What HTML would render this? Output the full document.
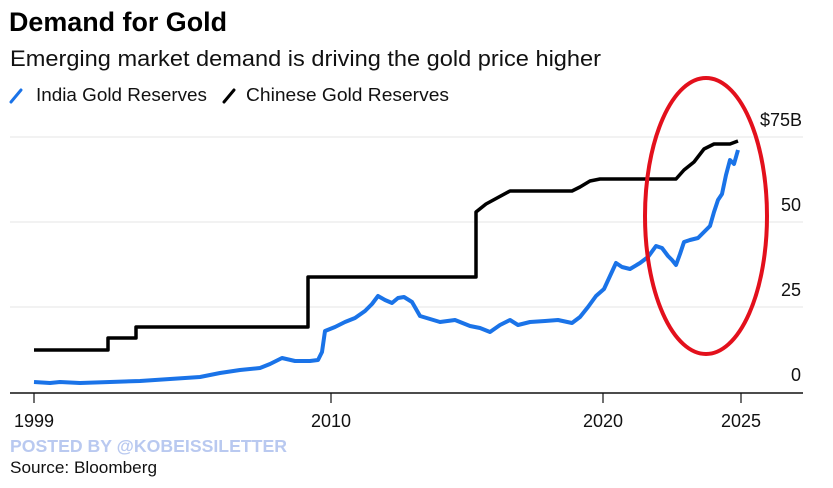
<!DOCTYPE html>
<html><head><meta charset="utf-8"><style>
body{margin:0;background:#fff;}
svg{display:block;font-family:"Liberation Sans",Arial,sans-serif;}
</style></head><body>
<svg width="833" height="488" viewBox="0 0 833 488" xmlns="http://www.w3.org/2000/svg">
<rect width="833" height="488" fill="#fff"/>
<text x="9" y="31" font-size="26.5" font-weight="bold" fill="#000" textLength="218" lengthAdjust="spacingAndGlyphs">Demand for Gold</text>
<text x="10" y="66" font-size="22" fill="#111" textLength="591" lengthAdjust="spacingAndGlyphs">Emerging market demand is driving the gold price higher</text>
<line x1="11" y1="102" x2="21" y2="90" stroke="#1a73e8" stroke-width="3" stroke-linecap="round"/>
<text x="36" y="101" font-size="18.5" fill="#111" textLength="171" lengthAdjust="spacingAndGlyphs">India Gold Reserves</text>
<line x1="224" y1="102" x2="234" y2="90" stroke="#000" stroke-width="3" stroke-linecap="round"/>
<text x="246" y="101" font-size="18.5" fill="#111" textLength="203" lengthAdjust="spacingAndGlyphs">Chinese Gold Reserves</text>
<g stroke="#e6e6e6" stroke-width="1">
<line x1="10" y1="137" x2="803" y2="137"/>
<line x1="10" y1="222" x2="803" y2="222"/>
<line x1="10" y1="307" x2="803" y2="307"/>
</g>
<g font-size="18" fill="#111" text-anchor="end">
<text x="802" y="126">$75B</text>
<text x="801" y="211">50</text>
<text x="801" y="296">25</text>
<text x="801" y="381">0</text>
</g>
<line x1="10" y1="393" x2="803" y2="393" stroke="#111" stroke-width="1.5"/>
<g stroke="#111" stroke-width="1.2">
<line x1="34" y1="393" x2="34" y2="403"/><line x1="331" y1="393" x2="331" y2="403"/>
<line x1="603" y1="393" x2="603" y2="403"/><line x1="741" y1="393" x2="741" y2="403"/>
</g>
<g font-size="18" fill="#111" text-anchor="middle">
<text x="34" y="427">1999</text><text x="331" y="427">2010</text>
<text x="603" y="427">2020</text><text x="741" y="427">2025</text>
</g>
<text x="10" y="452" font-size="17.5" font-weight="bold" fill="#b9c9f0" textLength="277" lengthAdjust="spacingAndGlyphs">POSTED BY @KOBEISSILETTER</text>
<text x="10" y="473" font-size="17" fill="#111" textLength="147" lengthAdjust="spacingAndGlyphs">Source: Bloomberg</text>
<polyline fill="none" stroke="#000" stroke-width="3.5" stroke-linejoin="round" points="34,350 108,350 108,338 136,338 136,327 308,327 308,277 476,277 476,212 486,204 510,191 572,191 580,187 590,181 600,179 676,179 684,170 694,162 704,149 714,144 730,144 738,141"/>
<polyline fill="none" stroke="#1a73e8" stroke-width="4" stroke-linejoin="round" points="34,382 50,383 60,382 80,383 110,382 140,381 170,379 200,377 220,373 240,370 260,368 270,364 282,358 295,361 310,361 318,360 322,352 325,331 335,327 345,322 355,318 365,311 372,304 378,296 385,300 392,303 398,298 404,297 412,302 420,316 430,319 440,322 455,320 470,326 480,328 490,332 500,325 510,320 518,325 530,322 545,321 558,320 572,323 580,317 588,307 596,296 604,289 610,276 616,263 622,267 630,269 640,263 648,257 656,246 662,248 668,256 672,260 676,265 680,254 684,242 690,240 698,238 704,232 710,226 714,212 718,200 722,194 726,175 730,160 734,164 738,150"/>
<ellipse cx="706" cy="216" rx="61" ry="138" fill="none" stroke="#e3101c" stroke-width="4"/>
</svg>
</body></html>
